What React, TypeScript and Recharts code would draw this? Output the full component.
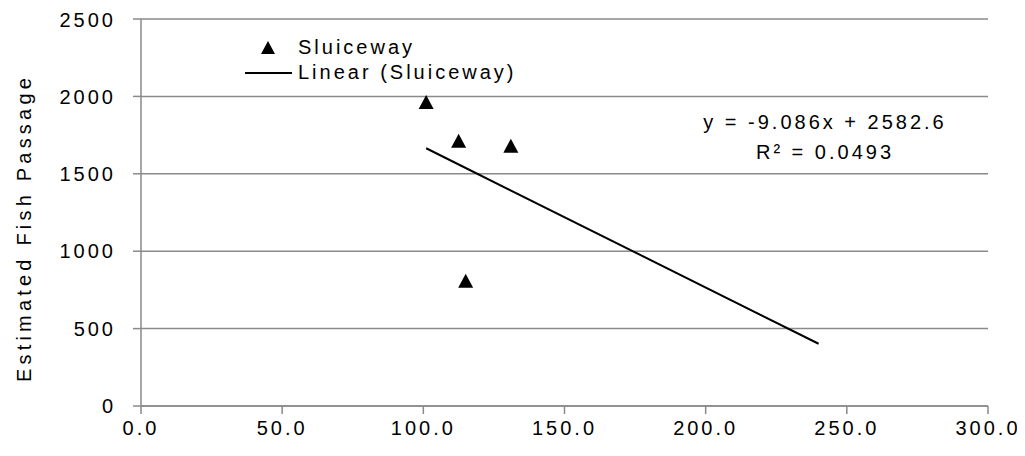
import React from 'react';
import {
  ScatterChart,
  Scatter,
  XAxis,
  YAxis,
  CartesianGrid,
} from 'recharts';

const passX = [101, 112.5, 131, 115];
const passY = [1957, 1707, 1675, 803];

// trendline endpoints, y = -9.086x + 2582.6
const trendX = [101, 240];
const trendY = [1665, 402];

const xTicks = [0, 50, 100, 150, 200, 250, 300];
const yTicks = [0, 500, 1000, 1500, 2000, 2500];

const seriesName = 'Sluiceway';
const trendName = 'Linear (Sluiceway)';
const equation = 'y = -9.086x + 2582.6';
const rSquared = 'R\u00b2 = 0.0493';
const yTitle = 'Estimated Fish Passage';

const points = passX.map((x, i) => ({ x, y: passY[i] }));
const trend = trendX.map((x, i) => ({ x, y: trendY[i] }));

const FONT = '"Liberation Sans", Arial, sans-serif';
const GRID = '#8a8a8a';

const tickStyle = { fontSize: 20, fill: '#000', fontFamily: FONT, letterSpacing: 3 };

const Triangle = (props: any) => {
  const { cx, cy } = props;
  if (cx == null || cy == null) return null;
  return (
    <polygon
      points={`${cx},${cy - 8} ${cx - 7.5},${cy + 6} ${cx + 7.5},${cy + 6}`}
      fill="#000"
    />
  );
};

export default function App() {
  return (
    <div style={{ position: 'relative', width: 1017, height: 448, fontFamily: FONT }}>
      <ScatterChart
        width={1017}
        height={448}
        margin={{ top: 11, right: 37, bottom: 8, left: 0 }}
      >
        <CartesianGrid vertical={false} stroke={GRID} strokeWidth={1.5} />
        <XAxis
          type="number"
          dataKey="x"
          domain={[0, 300]}
          ticks={xTicks}
          height={42}
          tickFormatter={(v: number) => v.toFixed(1)}
          tick={tickStyle}
          tickSize={8}
          tickMargin={7}
          axisLine={{ stroke: GRID, strokeWidth: 1.5 }}
          tickLine={{ stroke: GRID, strokeWidth: 1.5 }}
        />
        <YAxis
          type="number"
          dataKey="y"
          domain={[0, 2500]}
          ticks={yTicks}
          width={133}
          tick={tickStyle}
          tickSize={8}
          tickMargin={17}
          axisLine={{ stroke: GRID, strokeWidth: 1.5 }}
          tickLine={{ stroke: GRID, strokeWidth: 1.5 }}
        />
        <Scatter
          name={trendName}
          data={trend}
          line={{ stroke: '#000', strokeWidth: 2 }}
          shape={() => null}
          isAnimationActive={false}
        />
        <Scatter
          name={seriesName}
          data={points}
          shape={Triangle}
          isAnimationActive={false}
        />
      </ScatterChart>

      {/* y axis title */}
      <div
        style={{
          position: 'absolute',
          left: 16,
          top: 220,
          transform: 'translate(-50%, -50%) rotate(-90deg)',
          whiteSpace: 'nowrap',
          fontSize: 20,
          letterSpacing: 4.2,
          color: '#000',
        }}
      >
        {yTitle}
      </div>

      {/* legend */}
      <div style={{ position: 'absolute', left: 237, top: 27, fontSize: 20, letterSpacing: 3, lineHeight: '25px', color: '#000' }}>
        <div style={{ display: 'flex', alignItems: 'center' }}>
          <svg width={53} height={20}>
            <polygon points="23,3 16,16 30,16" fill="#000" />
          </svg>
          <span>{seriesName}</span>
        </div>
        <div style={{ display: 'flex', alignItems: 'center' }}>
          <svg width={53} height={20}>
            <line x1={0} y1={10} x2={47} y2={10} stroke="#000" strokeWidth={2} />
          </svg>
          <span>{trendName}</span>
        </div>
      </div>

      {/* trendline equation */}
      <div
        style={{
          position: 'absolute',
          left: 817,
          top: 99,
          transform: 'translateX(-50%)',
          textAlign: 'center',
          fontSize: 20,
          letterSpacing: 3,
          lineHeight: '30px',
          whiteSpace: 'nowrap',
          color: '#000',
        }}
      >
        <div>{equation}</div>
        <div>{rSquared}</div>
      </div>
    </div>
  );
}
